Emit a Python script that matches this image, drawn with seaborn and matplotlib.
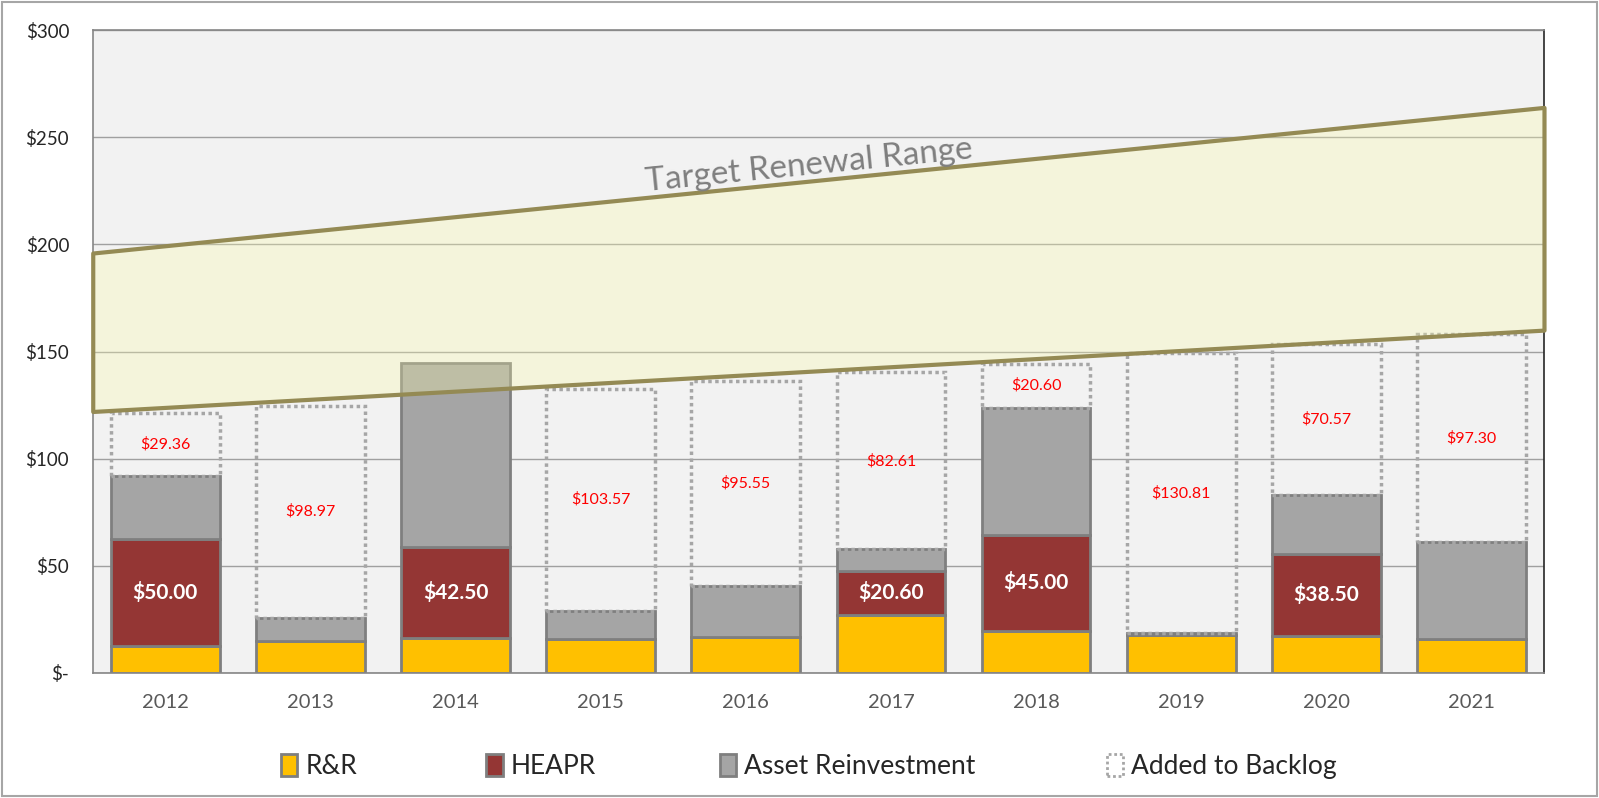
import matplotlib
matplotlib.use('Agg')
import matplotlib.pyplot as plt
from matplotlib.patches import Patch, Rectangle
import numpy as np
import pandas as pd
import seaborn as sns

# values ($ millions)
years = ['2012', '2013', '2014', '2015', '2016', '2017', '2018', '2019', '2020', '2021']
rr = [12.4, 14.8, 16.2, 15.7, 16.7, 27.1, 19.5, 17.6, 17.1, 15.7]
heapr = [50.00, 0, 42.50, 0, 0, 20.60, 45.00, 0, 38.50, 0]
asset = [29.5, 10.9, 86.1, 13.3, 23.8, 9.9, 59.3, 1.0, 27.3, 45.3]
backlog = [29.36, 98.97, 0, 103.57, 95.55, 82.61, 20.60, 130.81, 70.57, 97.30]

# target renewal band, from first to last category edge
target_x = [-0.5, 9.5]
target_low = [122, 160]
target_high = [196, 264]

y_ticks = [0, 50, 100, 150, 200, 250, 300]
y_labels = ['$-', '$50', '$100', '$150', '$200', '$250', '$300']

C_RR = '#FFC000'
C_HEAPR = '#943634'
C_ASSET = '#A5A5A5'
C_EDGE = '#7F7F7F'

sns.set_style('white')
plt.rcParams['font.family'] = ['Lato', 'DejaVu Sans']

df = pd.DataFrame({'year': years, 'rr': rr, 'heapr': heapr,
                   'asset': asset, 'backlog': backlog})
df['b_heapr'] = df['rr']
df['b_asset'] = df['rr'] + df['heapr']
df['b_backlog'] = df['b_asset'] + df['asset']

fig, ax = plt.subplots(figsize=(15.99, 7.98), dpi=100)
fig.subplots_adjust(left=0.058, right=0.9656, top=0.962, bottom=0.157)
ax.set_facecolor('#F2F2F2')

layers = [('rr', None, C_RR), ('heapr', 'b_heapr', C_HEAPR), ('asset', 'b_asset', C_ASSET)]
for col, bot, color in layers:
    kw = {} if bot is None else {'bottom': df[bot].values}
    sns.barplot(data=df, x='year', y=col, order=years, color=color, width=0.75,
                edgecolor=C_EDGE, linewidth=2, saturation=1, ax=ax, zorder=2, **kw)

# added to backlog: empty dotted boxes on top
sns.barplot(data=df, x='year', y='backlog', order=years, width=0.75,
            bottom=df['b_backlog'].values, color='#A6A6A6', fill=False, saturation=1,
            linewidth=2.5, linestyle=(0, (1, 1)), ax=ax, zorder=3)

for p in ax.patches:
    if p.get_height() == 0:
        p.set_visible(False)

# value labels
for i in range(len(years)):
    if heapr[i] > 0:
        ax.text(i, rr[i] + heapr[i] / 2, f'${heapr[i]:.2f}', ha='center', va='center',
                color='white', fontsize=15, fontweight='bold', zorder=5)
    if backlog[i] > 0:
        ax.text(i, df['b_backlog'][i] + backlog[i] / 2, f'${backlog[i]:.2f}', ha='center',
                va='center', color='#FF0000', fontsize=11.5, zorder=5)

# target band drawn over the bars, semi-transparent
ax.fill_between(target_x, target_low, target_high, facecolor=(0.976, 0.976, 0.66, 0.3),
                edgecolor='#948A54', linewidth=3, zorder=4, clip_on=False)
ang = np.degrees(np.arctan(((target_high[1] - target_high[0]) / 300 * 0.805 * 798)
                           / ((target_x[1] - target_x[0]) / 10 * 0.9076 * 1599)))
ax.text(4.44, 232.5, 'Target Renewal Range', rotation=ang, rotation_mode='anchor',
        ha='center', va='baseline', color='#7F7F7F', fontsize=24, zorder=5)

ax.set_ylim(0, 300)
ax.set_xlim(-0.5, 9.5)
ax.set_yticks(y_ticks)
ax.set_yticklabels(y_labels)
ax.set_xlabel('')
ax.set_ylabel('')
ax.yaxis.grid(True, color='#A0A0A0', linewidth=1)
ax.set_axisbelow(True)
ax.tick_params(axis='y', length=0, pad=17, labelsize=13.5, labelcolor='#262626')
ax.tick_params(axis='x', which='major', length=0, pad=15, labelsize=14.5, labelcolor='#595959')
ax.set_xticks(np.arange(-0.5, 10, 1), minor=True)
ax.tick_params(axis='x', which='minor', length=7, width=1, color='#BFBFBF')

for side in ['left', 'top', 'bottom']:
    ax.spines[side].set_color('#868686')
    ax.spines[side].set_linewidth(1.2)
ax.spines['right'].set_color('#262626')
ax.spines['right'].set_linewidth(1.2)

# legend entries placed one by one like the original
entries = [
    (Patch(facecolor=C_RR, edgecolor=C_EDGE, linewidth=2), 'R&R', 0.1755),
    (Patch(facecolor=C_HEAPR, edgecolor=C_EDGE, linewidth=2), 'HEAPR', 0.304),
    (Patch(facecolor=C_ASSET, edgecolor=C_EDGE, linewidth=2), 'Asset Reinvestment', 0.450),
    (Patch(facecolor='none', edgecolor='#A6A6A6', linewidth=2, linestyle=(0, (1, 1))),
     'Added to Backlog', 0.692),
]
for h, lab, xpos in entries:
    fig.legend([h], [lab], loc='center left', bbox_to_anchor=(xpos, 0.0395), frameon=False,
               fontsize=19, handlelength=0.63, handleheight=0.9, handletextpad=0.3,
               borderpad=0, borderaxespad=0)

fig.add_artist(Rectangle((0.001, 0.002), 0.998, 0.996, transform=fig.transFigure,
                         fill=False, edgecolor='#A6A6A6', linewidth=1.5))

plt.savefig('out.png', format='png', dpi=100)
